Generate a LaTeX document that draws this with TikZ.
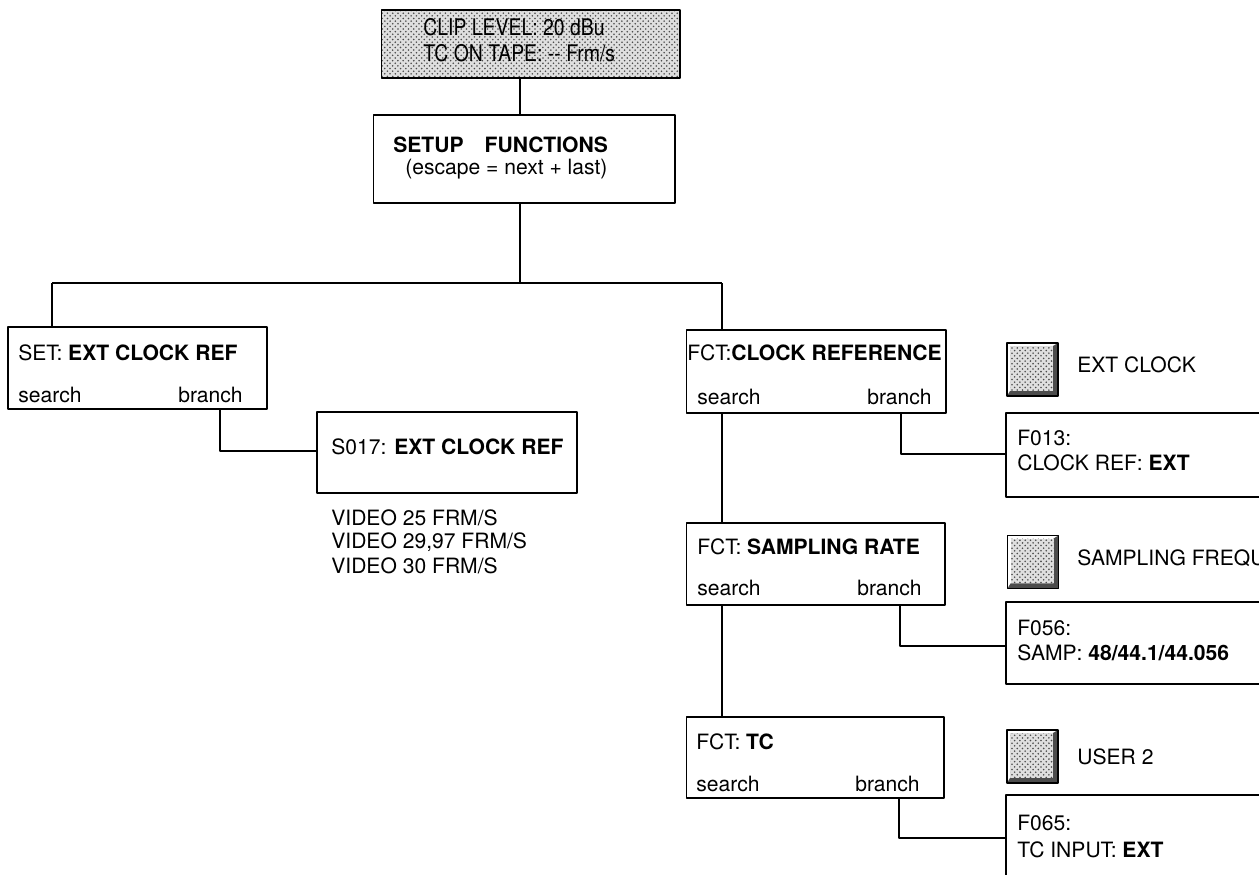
\documentclass[tikz,border=0pt]{standalone}
\usepackage{fontspec}
\setmainfont{TeX Gyre Heros}
\usepackage{tikz}
\usetikzlibrary{patterns,calc}

\newcommand\fsz{\fontsize{12}{14.4}\selectfont}
\newcommand\fszs{\fontsize{13}{15.6}\selectfont}

\tikzset{
  box/.style={draw,line width=0.6pt,inner sep=0pt},
  boldbox/.style={draw,line width=1.5pt,inner sep=0pt},
  lbl/.style={inner sep=0pt,font=\fsz},
  wire/.style={line width=0.6pt},
  dotfill/.style={preaction={fill=gray!25},pattern=crosshatch dots,pattern color=black!70},
  keybtn/.style={draw,line width=0.6pt,inner sep=0pt,minimum width=1.02cm,minimum height=1.06cm,
    fill=white,
    path picture={
      \fill[black!70] (path picture bounding box.south west) -- (path picture bounding box.south east)
        -- (path picture bounding box.north east) -- ([shift={(-0.1cm,-0.06cm)}]path picture bounding box.north east)
        -- ([shift={(-0.1cm,0.1cm)}]path picture bounding box.south east)
        -- ([shift={(0.06cm,0.1cm)}]path picture bounding box.south west) -- cycle;
      \fill[dotfill] ([shift={(0.06cm,0.1cm)}]path picture bounding box.south west)
        rectangle ([shift={(-0.1cm,-0.06cm)}]path picture bounding box.north east);
    }},
}

\begin{document}
\begin{tikzpicture}[x=0.02cm,y=-0.02cm,line join=round]
  \useasboundingbox (0,0) rectangle (1259,875);
  \clip (0,0) rectangle (1259,875);

  % boxes
  \node[box,dotfill,minimum width=5.98cm,minimum height=1.36cm] (clip) at (530.5,44) {};
  \node[box,minimum width=6.04cm,minimum height=1.76cm] (setup) at (524,159) {};
  \node[box,minimum width=5.18cm,minimum height=1.64cm] (setref) at (137.5,368) {};
  \node[boldbox,minimum width=5.2cm,minimum height=1.62cm] (s017) at (447,452.5) {};
  \node[box,minimum width=5.2cm,minimum height=1.66cm] (fclk) at (816,371.5) {};
  \node[box,minimum width=5.18cm,minimum height=1.64cm] (fsmp) at (815.5,564) {};
  \node[box,minimum width=5.16cm,minimum height=1.62cm] (ftc) at (815,757.5) {};
  \node[boldbox,minimum width=5.38cm,minimum height=1.68cm] (f013) at (1140.5,455) {};
  \node[boldbox,minimum width=5.38cm,minimum height=1.64cm] (f056) at (1140.5,643) {};
  \node[boldbox,minimum width=5.38cm,minimum height=1.8cm] (f065) at (1140.5,840) {};

  % keys
  \node[keybtn] (k1) at (1032.5,369.5) {};
  \node[keybtn] (k2) at (1033,562) {};
  \node[keybtn] (k3) at (1032.5,756.5) {};

  % texts
  \node[lbl,font=\fszs,anchor=west] (clipA) at (423,27) {\scalebox{0.85}[1]{CLIP LEVEL: 20 dBu}};
  \node[lbl,font=\fszs,anchor=west] (clipB) at (423,53) {\scalebox{0.85}[1]{TC ON TAPE: -{}- Frm/s}};
  \node[lbl,anchor=west] (setupA) at (393,145) {\textbf{SETUP\quad FUNCTIONS}};
  \node[lbl,anchor=west] (setupB) at (405,169) {(escape = next + last)};

  \node[lbl,anchor=west] (setT) at (18,353) {SET: \textbf{EXT CLOCK REF}};
  \node[lbl,anchor=west] (setS) at (18,395) {search};
  \node[lbl,anchor=east] (setB) at (243,395) {branch};

  \node[lbl,anchor=west] (s017T) at (331,447) {S017: \textbf{EXT CLOCK REF}};
  \node[lbl,anchor=west] (vid1) at (331,518) {VIDEO 25 FRM/S};
  \node[lbl,anchor=west] (vid2) at (331,542) {VIDEO 29,97 FRM/S};
  \node[lbl,anchor=west] (vid3) at (331,566) {VIDEO 30 FRM/S};

  \node[lbl,anchor=west] (fclkT) at (687,353) {FCT:\textbf{CLOCK REFERENCE}};
  \node[lbl,anchor=west] (fclkS) at (697,397) {search};
  \node[lbl,anchor=east] (fclkB) at (932,397) {branch};

  \node[lbl,anchor=west] (fsmpT) at (697,547) {FCT: \textbf{SAMPLING RATE}};
  \node[lbl,anchor=west] (fsmpS) at (697,588) {search};
  \node[lbl,anchor=east] (fsmpB) at (922,588) {branch};

  \node[lbl,anchor=west] (ftcT) at (696,742) {FCT: \textbf{TC}};
  \node[lbl,anchor=west] (ftcS) at (696,784) {search};
  \node[lbl,anchor=east] (ftcB) at (920,784) {branch};

  \node[lbl,anchor=west] (k1T) at (1077,365) {EXT CLOCK};
  \node[lbl,anchor=west] (k2T) at (1077,558) {SAMPLING FREQU};
  \node[lbl,anchor=west] (k3T) at (1077,757) {USER 2};

  \node[lbl,anchor=west] (f013A) at (1017,438) {F013:};
  \node[lbl,anchor=west] (f013B) at (1017,463) {CLOCK REF: \textbf{EXT}};
  \node[lbl,anchor=west] (f056A) at (1017,628) {F056:};
  \node[lbl,anchor=west] (f056B) at (1017,653) {SAMP: \textbf{48/44.1/44.056}};
  \node[lbl,anchor=west] (f065A) at (1017,823) {F065:};
  \node[lbl,anchor=west] (f065B) at (1017,850) {TC INPUT: \textbf{EXT}};

  % connectors
  \coordinate (trunk) at (520,283);
  \coordinate (jL) at (52,283);
  \coordinate (jR) at (722,283);
  \draw[wire] (trunk |- clip.south) -- (trunk |- setup.north);
  \draw[wire] (trunk |- setup.south) -- (trunk);
  \draw[wire] (jL) -- (jR);
  \draw[wire] (jL) -- (jL |- setref.north);
  \draw[wire] (jR) -- (jR |- fclk.north);
  \draw[wire] (fclk.south -| jR) -- (fsmp.north -| jR);
  \draw[wire] (fsmp.south -| jR) -- (ftc.north -| jR);

  \coordinate (b0) at (220,451);
  \coordinate (b1) at (901,454);
  \coordinate (b2) at (900,646);
  \coordinate (b3) at (899,838);
  \draw[wire] (setref.south -| b0) -- (b0) -- (b0 -| s017.west);
  \draw[wire] (fclk.south -| b1) -- (b1) -- (b1 -| f013.west);
  \draw[wire] (fsmp.south -| b2) -- (b2) -- (b2 -| f056.west);
  \draw[wire] (ftc.south -| b3) -- (b3) -- (b3 -| f065.west);
\end{tikzpicture}
\end{document}
